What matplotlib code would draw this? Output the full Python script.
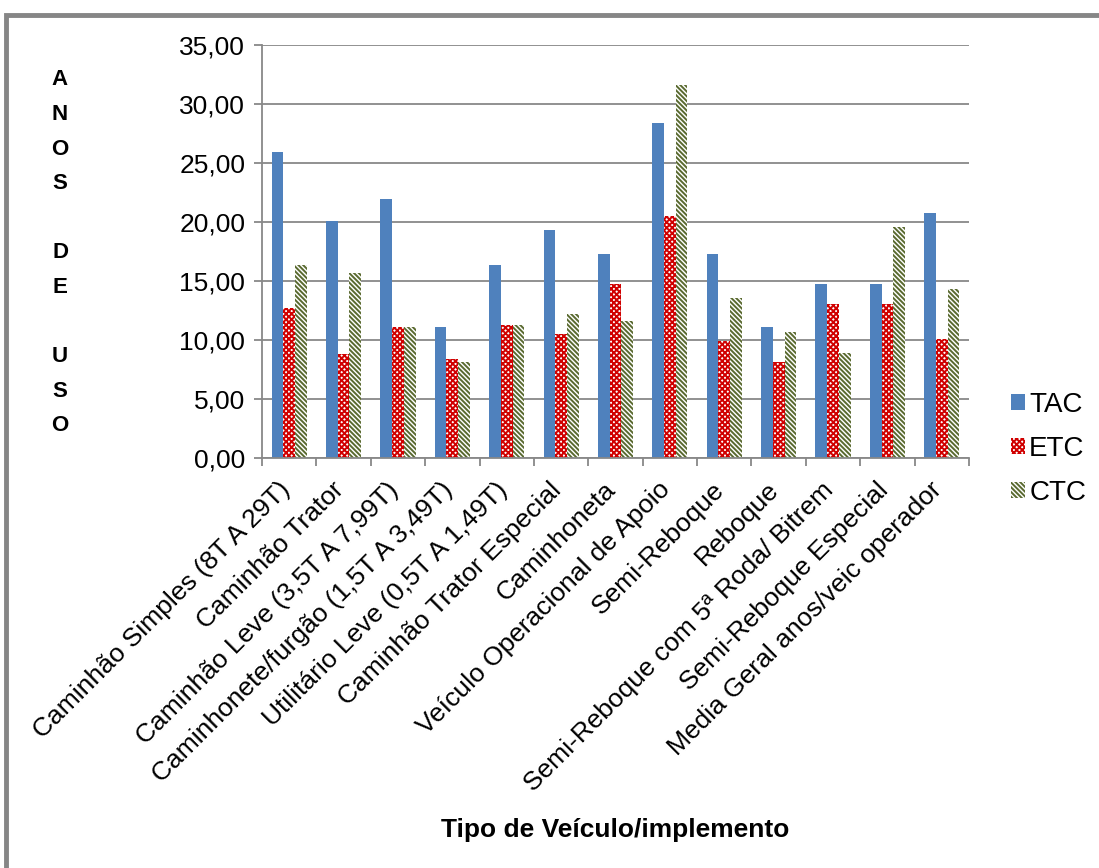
import matplotlib
matplotlib.use("Agg")
import matplotlib.pyplot as plt
import numpy as np
from matplotlib.patches import Rectangle

plt.rcParams["font.family"] = ["Liberation Sans", "DejaVu Sans"]
plt.rcParams["hatch.linewidth"] = 1.4

categories = [
    "Caminhão Simples (8T A 29T)",
    "Caminhão Trator",
    "Caminhão Leve (3,5T A 7,99T)",
    "Caminhonete/furgão (1,5T A 3,49T)",
    "Utilitário Leve (0,5T A 1,49T)",
    "Caminhão Trator Especial",
    "Caminhoneta",
    "Veículo Operacional de Apoio",
    "Semi-Reboque",
    "Reboque",
    "Semi-Reboque com 5ª Roda/ Bitrem",
    "Semi-Reboque Especial",
    "Media Geral anos/veic operador",
]
tac = [25.95, 20.05, 21.95, 11.15, 16.40, 19.35, 17.30, 28.40, 17.30, 11.15, 14.77, 14.77, 20.76]
etc = [12.70, 8.80, 11.15, 8.39, 11.30, 10.50, 14.77, 20.50, 9.94, 8.14, 13.10, 13.10, 10.08]
ctc = [16.40, 15.70, 11.10, 8.14, 11.30, 12.20, 11.60, 31.60, 13.60, 10.73, 8.90, 19.60, 14.35]
yticks = np.arange(0, 35.01, 5)

GRID = "#888888"
FS = 19
fig = plt.figure(figsize=(10.99, 8.68), dpi=100)
W, H = 1099, 868
ax = fig.add_axes([262 / W, 1 - 458.3 / H, (969 - 262) / W, (458.3 - 44.8) / H])

x = np.arange(len(categories))
w = 0.215
ax.bar(x - w, tac, w, color="#4f81bd", linewidth=0, label="TAC")
ax.bar(x, etc, w, facecolor="white", edgecolor="#d00000", hatch="xxxxxx",
       linewidth=0, label="ETC")
ax.bar(x + w, ctc, w, facecolor="white", edgecolor="#5a6a30", hatch="\\" * 7,
       linewidth=0, label="CTC")

ax.set_xlim(-0.5, len(categories) - 0.5)
ax.set_ylim(0, 35)
ax.set_yticks(yticks)
ax.set_yticklabels([f"{v:.2f}".replace(".", ",") for v in yticks], fontsize=FS)
ax.yaxis.grid(True, color=GRID, lw=1.3)
ax.set_axisbelow(True)
for side in ("top", "right"):
    ax.spines[side].set_visible(False)
for side in ("left", "bottom"):
    ax.spines[side].set_color(GRID)
    ax.spines[side].set_linewidth(1.3)
ax.tick_params(axis="y", color=GRID, length=6, width=1.3, pad=6)

# category ticks sit between the groups, labels sit at the group centres
ax.set_xticks(np.arange(-0.5, len(categories) + 0.5, 1.0))
ax.set_xticklabels([])
ax.tick_params(axis="x", color=GRID, length=6, width=1.3)
for xi, lab in zip(x, categories):
    ax.annotate(lab, xy=(xi - 0.06, 0), xycoords=("data", "axes fraction"),
                xytext=(0, -20), textcoords="offset points",
                rotation=45, rotation_mode="anchor", ha="right", va="center",
                fontsize=FS)

fig.text(60 / W, 1 - 253 / H, "A\nN\nO\nS\n\nD\nE\n\nU\nS\nO", ha="center",
         va="center", fontsize=16, fontweight="bold", linespacing=1.85)
fig.text(615 / W, 1 - 830 / H, "Tipo de Veículo/implemento", ha="center",
         va="center", fontsize=FS, fontweight="bold")

fig.legend(loc="upper left", bbox_to_anchor=(1000 / W, 1 - 381 / H),
           frameon=False, fontsize=20, handlelength=0.5, handleheight=0.5,
           handletextpad=0.15, labelspacing=0.65, borderaxespad=0)

fig.patches.append(Rectangle((6 / W, -0.1), 1.2, 1 - 15 / H + 0.1,
                             transform=fig.transFigure, fill=False,
                             edgecolor="#868686", lw=3.5))

fig.savefig("out.png", dpi=100)
